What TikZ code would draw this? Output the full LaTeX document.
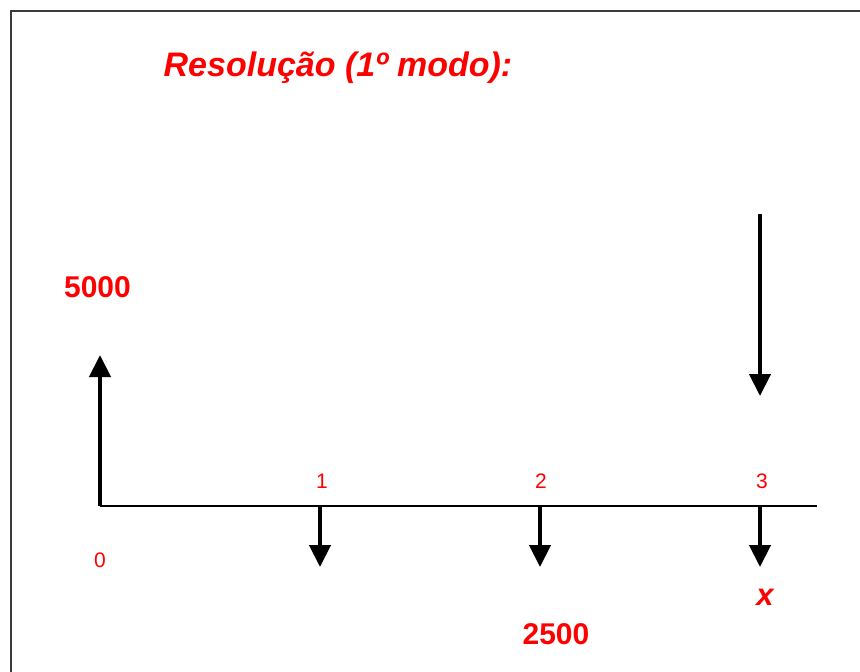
\documentclass[tikz,border=0pt]{standalone}
\usepackage{fontspec}
\setmainfont{Liberation Sans}
\usetikzlibrary{arrows.meta}
\definecolor{lblred}{RGB}{255,0,0}
\definecolor{framegray}{RGB}{60,60,60}
\tikzset{
  flow/.style={line width=4.3pt, -{Triangle[width=21pt,length=22pt]}},
  axisline/.style={line width=2.7pt},
  tick/.style={text=lblred, font=\fontsize{21}{24}\selectfont, anchor=base, inner sep=0pt},
  amount/.style={text=lblred, font=\fontsize{30}{34}\selectfont\bfseries, anchor=base, inner sep=0pt},
  frame/.style={line width=2pt, draw=framegray}
}
\begin{document}
\begin{tikzpicture}[x=1pt,y=-1pt]
\useasboundingbox (0,0) rectangle (860,672);
\fill[white] (0,0) rectangle (860,672);
% frame (top and left edges visible)
\coordinate (fbl) at (11,672);
\coordinate (ftl) at (11,11);
\coordinate (ftr) at (860,11);
\draw[frame] (fbl) -- (ftl) -- (ftr);
% title
\node[amount, font=\fontsize{34}{38}\selectfont\bfseries\itshape] (title) at (338,76) {Resolução (1º modo):};
% axis
\coordinate (o) at (100,506);
\coordinate (t1) at (320,506);
\coordinate (t2) at (540,506);
\coordinate (t3) at (760,506);
\coordinate (aend) at (817,506);
\draw[axisline, line join=miter] (o) -- (aend);
% arrows
\coordinate (up) at (100,355);
\draw[flow, line join=miter] (o) -- (up);
\coordinate (d1) at (320,567);
\coordinate (d2) at (540,567);
\coordinate (d3) at (760,567);
\draw[flow] (t1) -- (d1);
\draw[flow] (t2) -- (d2);
\draw[flow] (t3) -- (d3);
\coordinate (bigs) at (760,214);
\coordinate (bige) at (760,396);
\draw[flow] (bigs) -- (bige);
% labels
\node[tick] (l0) at (100,567) {0};
\node[tick] (l1) at (322,488) {1};
\node[tick] (l2) at (541,488) {2};
\node[tick] (l3) at (762,488) {3};
\node[amount] (v5000) at (97.5,297) {5000};
\node[amount] (v2500) at (556,644) {2500};
\node[amount, font=\fontsize{31}{35}\selectfont\bfseries\itshape] (vx) at (765,605) {x};
\end{tikzpicture}
\end{document}
